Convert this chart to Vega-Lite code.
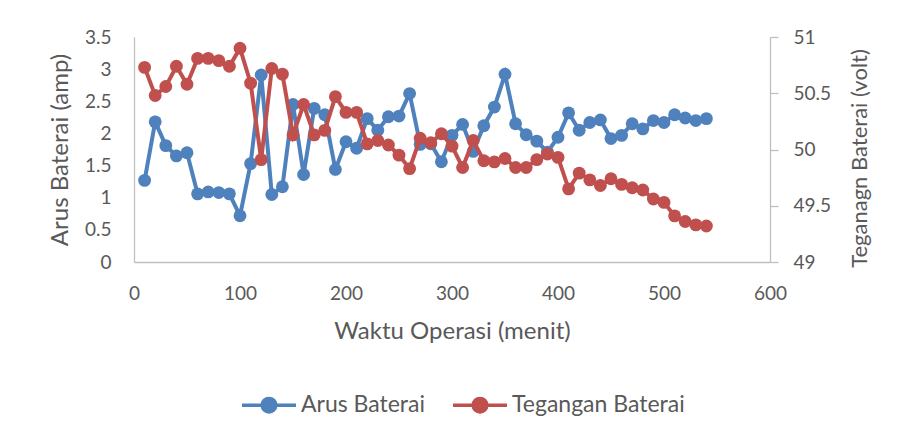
{
  "$schema": "https://vega.github.io/schema/vega-lite/v6.json",
  "width": 636,
  "height": 225,
  "autosize": {"type": "none"},
  "padding": {"left": 134, "top": 37, "right": 128, "bottom": 175},
  "background": "white",
  "config": {
    "font": "Lato",
    "view": {"stroke": null},
    "axis": {
      "labelFont": "Lato",
      "labelFontSize": 19,
      "labelColor": "#595959",
      "labelFlush": false,
      "titleFont": "Lato",
      "titleFontSize": 24,
      "titleFontWeight": "normal",
      "titleColor": "#595959",
      "domainColor": "#BFBFBF",
      "domainWidth": 1.3,
      "grid": false,
      "ticks": false
    },
    "legend": {"labelFont": "Lato"}
  },
  "data": {
    "values": [
      {"t": 10, "arus": 1.27, "teg": 50.73},
      {"t": 20, "arus": 2.18, "teg": 50.48},
      {"t": 30, "arus": 1.81, "teg": 50.56},
      {"t": 40, "arus": 1.65, "teg": 50.74},
      {"t": 50, "arus": 1.70, "teg": 50.58},
      {"t": 60, "arus": 1.06, "teg": 50.81},
      {"t": 70, "arus": 1.09, "teg": 50.81},
      {"t": 80, "arus": 1.08, "teg": 50.79},
      {"t": 90, "arus": 1.06, "teg": 50.74},
      {"t": 100, "arus": 0.72, "teg": 50.90},
      {"t": 110, "arus": 1.53, "teg": 50.59},
      {"t": 120, "arus": 2.91, "teg": 49.91},
      {"t": 130, "arus": 1.05, "teg": 50.72},
      {"t": 140, "arus": 1.17, "teg": 50.67},
      {"t": 150, "arus": 2.45, "teg": 50.13},
      {"t": 160, "arus": 1.36, "teg": 50.40},
      {"t": 170, "arus": 2.39, "teg": 50.13},
      {"t": 180, "arus": 2.29, "teg": 50.17},
      {"t": 190, "arus": 1.44, "teg": 50.47},
      {"t": 200, "arus": 1.87, "teg": 50.33},
      {"t": 210, "arus": 1.77, "teg": 50.33},
      {"t": 220, "arus": 2.23, "teg": 50.05},
      {"t": 230, "arus": 2.05, "teg": 50.08},
      {"t": 240, "arus": 2.26, "teg": 50.04},
      {"t": 250, "arus": 2.27, "teg": 49.95},
      {"t": 260, "arus": 2.62, "teg": 49.83},
      {"t": 270, "arus": 1.83, "teg": 50.10},
      {"t": 280, "arus": 1.84, "teg": 50.06},
      {"t": 290, "arus": 1.56, "teg": 50.14},
      {"t": 300, "arus": 1.97, "teg": 50.03},
      {"t": 310, "arus": 2.14, "teg": 49.84},
      {"t": 320, "arus": 1.72, "teg": 50.08},
      {"t": 330, "arus": 2.12, "teg": 49.90},
      {"t": 340, "arus": 2.41, "teg": 49.89},
      {"t": 350, "arus": 2.92, "teg": 49.92},
      {"t": 360, "arus": 2.15, "teg": 49.84},
      {"t": 370, "arus": 1.98, "teg": 49.84},
      {"t": 380, "arus": 1.88, "teg": 49.91},
      {"t": 390, "arus": 1.71, "teg": 49.96},
      {"t": 400, "arus": 1.94, "teg": 49.93},
      {"t": 410, "arus": 2.32, "teg": 49.65},
      {"t": 420, "arus": 2.05, "teg": 49.79},
      {"t": 430, "arus": 2.17, "teg": 49.73},
      {"t": 440, "arus": 2.21, "teg": 49.68},
      {"t": 450, "arus": 1.92, "teg": 49.74},
      {"t": 460, "arus": 1.97, "teg": 49.69},
      {"t": 470, "arus": 2.15, "teg": 49.66},
      {"t": 480, "arus": 2.07, "teg": 49.64},
      {"t": 490, "arus": 2.20, "teg": 49.56},
      {"t": 500, "arus": 2.17, "teg": 49.53},
      {"t": 510, "arus": 2.29, "teg": 49.41},
      {"t": 520, "arus": 2.24, "teg": 49.36},
      {"t": 530, "arus": 2.20, "teg": 49.33},
      {"t": 540, "arus": 2.23, "teg": 49.32}
    ]
  },
  "layer": [
    {
      "mark": {"type": "line", "strokeWidth": 4, "point": {"filled": true, "size": 165, "opacity": 1}},
      "encoding": {
        "x": {
          "field": "t",
          "type": "quantitative",
          "scale": {"domain": [0, 600], "nice": false},
          "axis": {
            "values": [0, 100, 200, 300, 400, 500, 600],
            "labelPadding": 22,
            "title": "Waktu Operasi (menit)",
            "titlePadding": 16
          }
        },
        "y": {
          "field": "arus",
          "type": "quantitative",
          "scale": {"domain": [0, 3.5], "nice": false, "zero": false},
          "axis": {
            "orient": "left",
            "values": [0, 0.5, 1, 1.5, 2, 2.5, 3, 3.5],
            "format": "~g",
            "labelPadding": 23,
            "title": "Arus Baterai (amp)",
            "titlePadding": 12
          }
        },
        "color": {
          "datum": "Arus Baterai",
          "type": "nominal",
          "scale": {"domain": ["Arus Baterai", "Tegangan Baterai"], "range": ["#4F81BD", "#C0504D"]},
          "legend": {
            "orient": "none",
            "legendX": 106,
            "legendY": 339,
            "direction": "horizontal",
            "title": null,
            "padding": 0,
            "symbolType": "M-1,0L1,0M0.25,0A0.25,0.25 0 1,1 -0.25,0A0.25,0.25 0 1,1 0.25,0Z",
            "symbolSize": 2916,
            "symbolStrokeWidth": 3.5,
            "labelFontSize": 23,
            "labelColor": "#595959",
            "labelOffset": 3,
            "labelLimit": 400,
            "columnPadding": 20,
            "encode": {
              "symbols": {
                "update": {
                  "fill": {"scale": "color", "field": "value"},
                  "stroke": {"scale": "color", "field": "value"},
                  "opacity": {"value": 1}
                }
              }
            }
          }
        }
      }
    },
    {
      "mark": {"type": "line", "strokeWidth": 4, "point": {"filled": true, "size": 165, "opacity": 1}},
      "encoding": {
        "x": {"field": "t", "type": "quantitative"},
        "y": {
          "field": "teg",
          "type": "quantitative",
          "scale": {"domain": [49, 51], "nice": false, "zero": false},
          "axis": {
            "orient": "right",
            "values": [49, 49.5, 50, 50.5, 51],
            "format": "~g",
            "ticks": true,
            "tickSize": 8,
            "tickColor": "#BFBFBF",
            "tickWidth": 1.3,
            "labelPadding": 15,
            "title": "Teganagn Baterai (volt)",
            "titleFontSize": 22,
            "titleAngle": 270,
            "titleBaseline": "top",
            "titlePadding": 19,
            "titleY": 121
          }
        },
        "color": {"datum": "Tegangan Baterai", "type": "nominal"}
      }
    }
  ],
  "resolve": {"scale": {"y": "independent"}}
}
